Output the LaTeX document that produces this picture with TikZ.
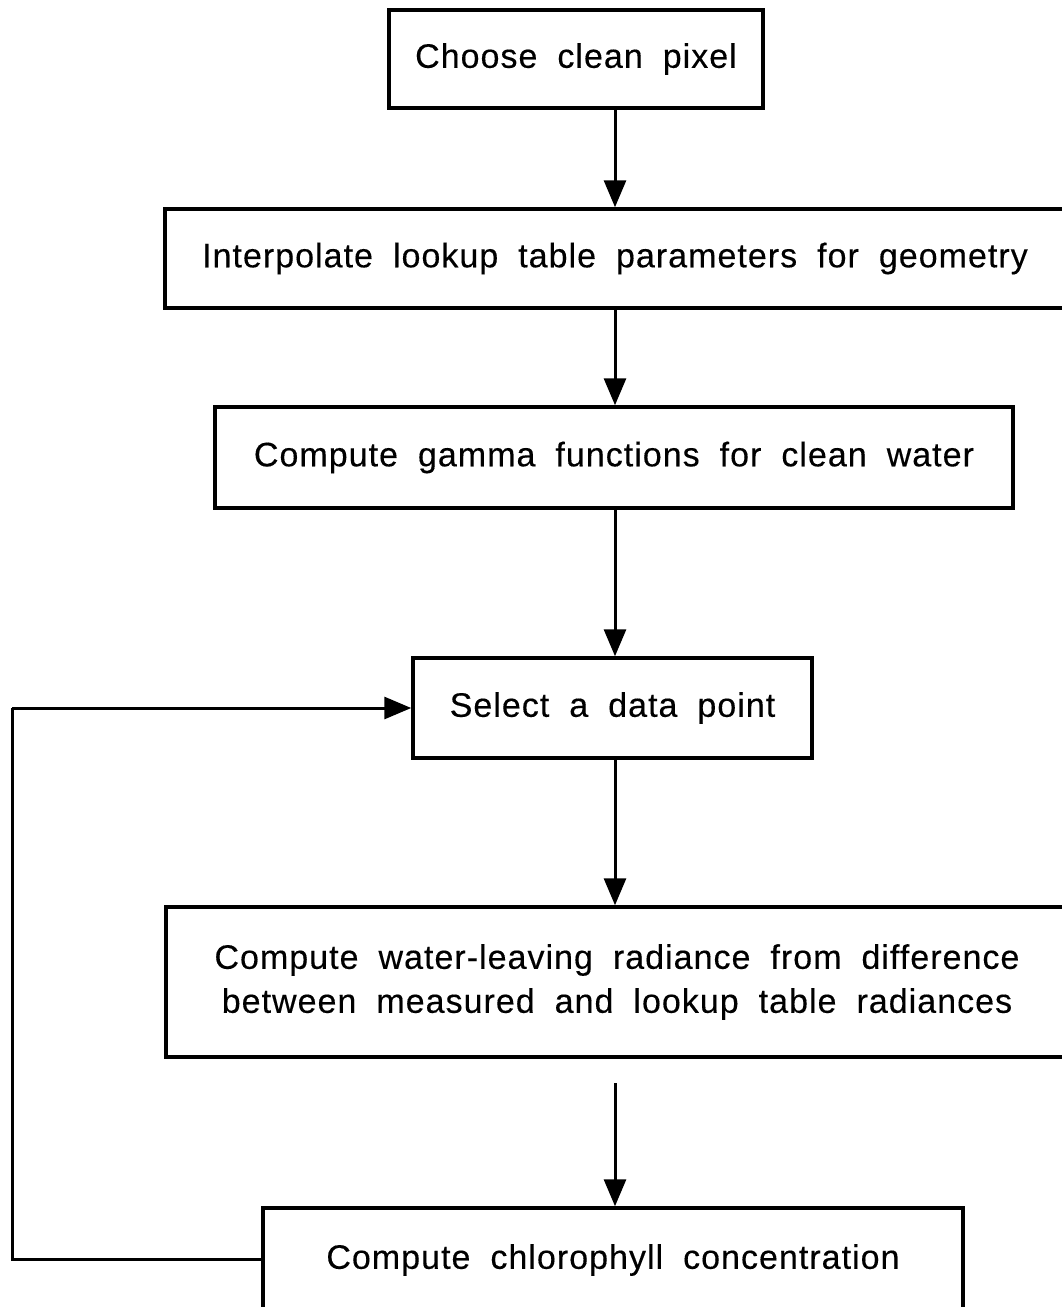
\documentclass[tikz,border=0pt]{standalone}
\usepackage{fontspec}
\setmainfont{Liberation Sans}[LetterSpace=3, FakeBold=0.3]
\usetikzlibrary{arrows.meta}
% type used inside the process boxes: large, with wide word spacing
\newcommand{\flowfont}{\fontsize{34}{44}\selectfont\spaceskip=20pt\relax}
\begin{document}
\begin{tikzpicture}[x=1pt, y=-1pt,
  box/.style={draw, line width=3.5pt, inner sep=0pt, align=center, font=\flowfont},
  flow/.style={line width=3pt, -{Triangle[length=27pt, width=22pt]}},
  loopline/.style={line width=3pt}]
  \useasboundingbox (0,0) rectangle (1062,1307);

  % process boxes
  \node[box, minimum width=374pt, minimum height=98pt] (b1) at (576,59) {Choose clean pixel};
  \node[box, minimum width=900pt, minimum height=99pt] (b2) at (615,258.5) {Interpolate lookup table parameters for geometry};
  \node[box, minimum width=798pt, minimum height=101pt] (b3) at (614,457.5) {Compute gamma functions for clean water};
  \node[box, minimum width=399pt, minimum height=100pt] (b4) at (612.5,708) {Select a data point};
  \node[box, minimum width=902pt, minimum height=150pt] (b5) at (617,982) {Compute water-leaving radiance from difference\\between measured and lookup table radiances};
  \node[box, minimum width=700pt, minimum height=104pt] (b6) at (613,1260) {Compute chlorophyll concentration};

  % vertical axis of the flow and helper points
  \coordinate (ax) at (615,0);
  \coordinate (gapstart) at (615,1083);
  \coordinate (lp) at (12,0);

  % main flow
  \draw[flow] (b1.south -| ax) -- (b2.north -| ax);
  \draw[flow] (b2.south -| ax) -- (b3.north -| ax);
  \draw[flow] (b3.south -| ax) -- (b4.north -| ax);
  \draw[flow] (b4.south -| ax) -- (b5.north -| ax);
  \draw[flow] (gapstart) -- (b6.north -| ax);

  % loop back to the next data point
  \coordinate (l1) at (b6.west |- 0,1259);
  \coordinate (l2) at (lp |- l1);
  \coordinate (l3) at (lp |- b4.west);
  \draw[loopline] (l1) -- (l2) -- (l3);
  \draw[flow] (l3) -- (b4.west);
\end{tikzpicture}
\end{document}
